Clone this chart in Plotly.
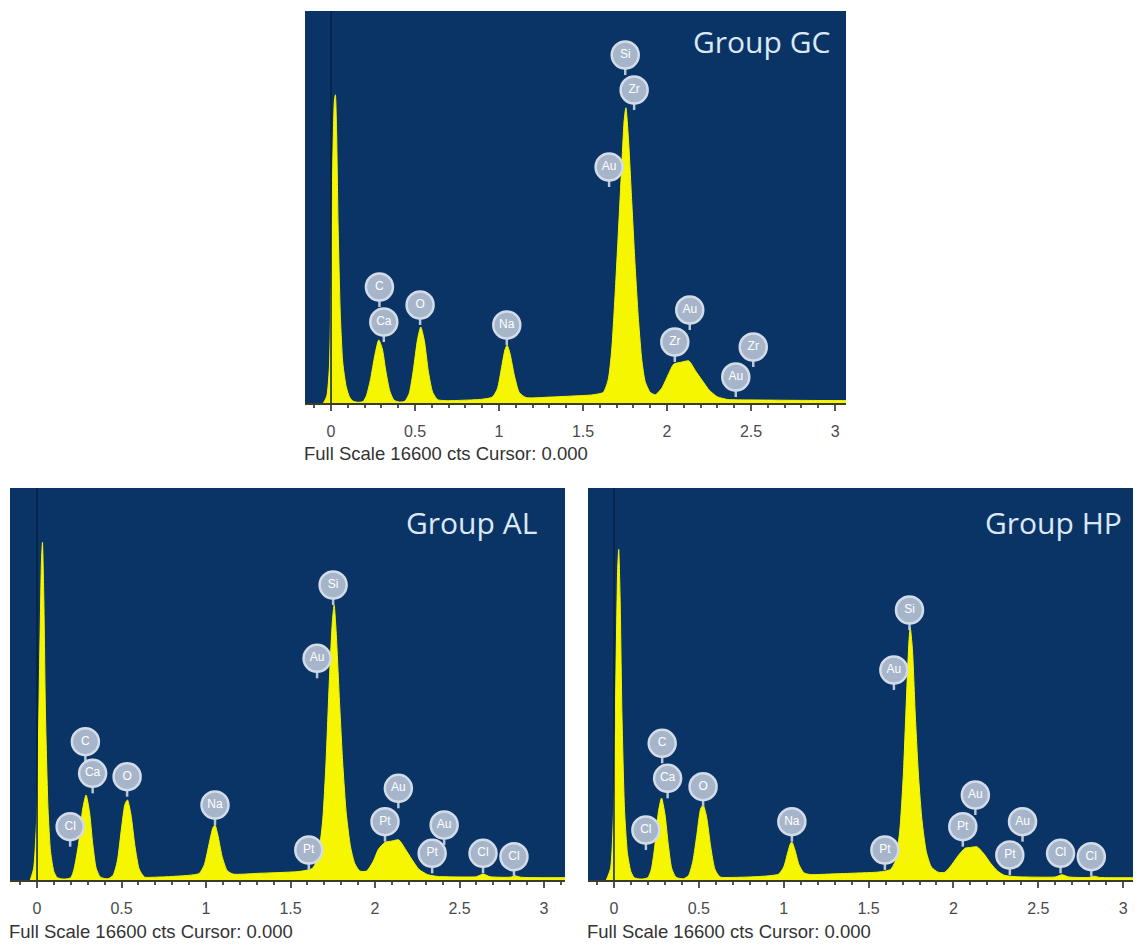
import plotly.graph_objects as go

W, H = 1141, 950
OFF = 8  # page body margin of the written html
FULL_SCALE = 16600

# ---------------- data ----------------
panel_names = ["Group GC", "Group AL", "Group HP"]

E_GC = [-0.045, -0.025, -0.01, 0.0, 0.01, 0.02, 0.026, 0.033, 0.042, 0.055, 0.07, 0.09, 0.11, 0.13, 0.16,
        0.19, 0.21, 0.235, 0.26, 0.284, 0.305, 0.325, 0.35, 0.375, 0.41,
        0.44, 0.465, 0.49, 0.515, 0.534, 0.555, 0.58, 0.605, 0.635, 0.7, 0.8, 0.9,
        0.96, 0.99, 1.015, 1.035, 1.048, 1.065, 1.09, 1.12, 1.16, 1.3, 1.45, 1.55,
        1.62, 1.65, 1.67, 1.69, 1.71, 1.73, 1.745, 1.755, 1.77, 1.79, 1.81, 1.83, 1.85, 1.87, 1.9, 1.93,
        1.97, 2.01, 2.04, 2.08, 2.13, 2.17, 2.21, 2.25, 2.3, 2.36, 2.5, 2.8, 3.1]
C_GC = [0, 300, 1500, 5000, 10000, 12800, 13050, 11500, 7500, 3800, 1700, 700, 250, 80, 30,
        60, 300, 1000, 2000, 2670, 2300, 1400, 500, 120, 40,
        80, 400, 1400, 2700, 3220, 2650, 1300, 450, 140, 100, 120, 160,
        250, 600, 1500, 2250, 2450, 2100, 1200, 450, 230, 250, 300, 340,
        450, 1000, 2200, 4500, 7200, 10000, 12000, 12500, 11200, 8500, 5800, 3500, 1800, 900, 450, 350,
        650, 1250, 1650, 1720, 1780, 1350, 950, 550, 260, 150, 130, 110, 100]

E_AL = [-0.04, -0.02, 0.0, 0.015, 0.026, 0.032, 0.04, 0.05, 0.065, 0.08, 0.1, 0.12, 0.16,
        0.2, 0.22, 0.245, 0.27, 0.29, 0.31, 0.33, 0.35, 0.375, 0.42,
        0.45, 0.475, 0.5, 0.52, 0.535, 0.555, 0.58, 0.605, 0.635, 0.7, 0.8, 0.9,
        0.96, 0.99, 1.02, 1.04, 1.053, 1.07, 1.095, 1.125, 1.16, 1.3, 1.45, 1.55, 1.6,
        1.63, 1.66, 1.69, 1.71, 1.73, 1.748, 1.758, 1.77, 1.79, 1.81, 1.83, 1.855, 1.88, 1.91, 1.95,
        1.99, 2.02, 2.06, 2.1, 2.14, 2.18, 2.22, 2.26, 2.31, 2.37, 2.5, 2.6, 2.64, 2.68, 2.8, 2.83, 2.86, 3.15]
C_AL = [0, 500, 3000, 9000, 13500, 14300, 12000, 7000, 3000, 1200, 350, 100, 40,
        100, 500, 1500, 3000, 3600, 2900, 1500, 500, 120, 50,
        200, 800, 2200, 3200, 3390, 2800, 1400, 450, 130, 120, 150, 200,
        280, 650, 1600, 2200, 2330, 1900, 1000, 400, 250, 280, 320, 360, 420,
        500, 900, 2500, 5000, 8500, 11000, 11650, 10500, 7500, 4800, 2800, 1400, 700, 380, 380,
        800, 1300, 1600, 1650, 1700, 1300, 850, 450, 230, 150, 130, 140, 250, 140, 120, 180, 120, 100]

E_HP = [-0.045, -0.02, 0.0, 0.012, 0.022, 0.028, 0.036, 0.047, 0.062, 0.08, 0.1, 0.12, 0.16,
        0.2, 0.22, 0.24, 0.262, 0.28, 0.3, 0.32, 0.34, 0.365, 0.41,
        0.44, 0.465, 0.49, 0.51, 0.525, 0.545, 0.57, 0.595, 0.625, 0.7, 0.8, 0.9,
        0.97, 1.0, 1.025, 1.04, 1.048, 1.065, 1.09, 1.12, 1.16, 1.3, 1.45, 1.55, 1.6,
        1.63, 1.66, 1.685, 1.705, 1.722, 1.737, 1.745, 1.758, 1.775, 1.795, 1.815, 1.84, 1.87, 1.91, 1.95,
        1.99, 2.03, 2.07, 2.1, 2.14, 2.18, 2.22, 2.26, 2.3, 2.37, 2.5, 2.6, 2.64, 2.68, 2.8, 2.83, 2.86, 3.15]
C_HP = [0, 500, 3500, 9000, 13200, 14000, 12000, 7000, 3000, 1100, 350, 100, 40,
        100, 450, 1400, 2900, 3470, 2800, 1500, 500, 120, 50,
        200, 800, 2000, 3000, 3180, 2700, 1400, 450, 130, 110, 130, 170,
        250, 550, 1200, 1550, 1610, 1300, 650, 300, 230, 260, 300, 330, 380,
        450, 850, 2200, 4500, 7500, 10000, 10700, 9800, 7000, 4300, 2500, 1200, 550, 330, 330,
        650, 1050, 1350, 1380, 1400, 1100, 700, 380, 200, 140, 120, 130, 220, 130, 110, 160, 110, 100]

# element badges: symbol, energy position, height (counts)
LBL_GC = ["Si", "Zr", "Au", "C", "Ca", "O", "Na", "Au", "Zr", "Zr", "Au"]
LX_GC = [1.751, 1.804, 1.655, 0.288, 0.314, 0.530, 1.046, 2.135, 2.046, 2.513, 2.409]
LY_GC = [14737, 13255, 9994, 4912, 3430, 4150, 3303, 3938, 2583, 2371, 1101]

LBL_AL = ["Si", "Au", "C", "Ca", "O", "Cl", "Na", "Pt", "Au", "Pt", "Au", "Pt", "Cl", "Cl"]
LX_AL = [1.752, 1.657, 0.286, 0.329, 0.533, 0.196, 1.053, 1.608, 2.138, 2.059, 2.409, 2.338, 2.639, 2.822]
LY_AL = [12492, 9388, 5857, 4517, 4376, 2258, 3176, 1270, 3882, 2470, 2329, 1129, 1129, 988]

LBL_HP = ["Si", "Au", "C", "Ca", "O", "Cl", "Na", "Pt", "Au", "Pt", "Au", "Pt", "Cl", "Cl"]
LX_HP = [1.741, 1.649, 0.284, 0.316, 0.525, 0.188, 1.048, 1.596, 2.129, 2.055, 2.407, 2.332, 2.631, 2.812]
LY_HP = [11434, 8893, 5788, 4305, 3952, 2117, 2470, 1270, 3599, 2258, 2470, 1059, 1129, 988]

TICK_VALS = [0, 0.5, 1, 1.5, 2, 2.5, 3]
TICK_TEXT = ["0", "0.5", "1", "1.5", "2", "2.5", "3"]
FOOTER = "Full Scale 16600 cts Cursor: 0.000"

# ---------------- layout geometry (page pixels) ----------------
panels = [
    dict(box=(305, 846, 11, 403), xr=(-0.155, 3.065), E=E_GC, C=C_GC, L=LBL_GC, LX=LX_GC, LY=LY_GC),
    dict(box=(10, 565, 488, 880), xr=(-0.160, 3.124), E=E_AL, C=C_AL, L=LBL_AL, LX=LX_AL, LY=LY_AL),
    dict(box=(588, 1149, 488, 880), xr=(-0.153, 3.152), E=E_HP, C=C_HP, L=LBL_HP, LX=LX_HP, LY=LY_HP),
]
title_pos = [(832, 42), (539, 522), (1124, 522)]

BG = "#0b3466"
YEL = "#f6f600"

def xp(px):
    return (px - OFF) / W

def yp(py):
    return 1 - (py - OFF) / H

fig = go.Figure()
layout = dict(width=W, height=H, margin=dict(l=0, r=0, t=0, b=0),
              paper_bgcolor="white", plot_bgcolor=BG, showlegend=False)
annotations = []
shapes = []

for i, p in enumerate(panels):
    n = "" if i == 0 else str(i + 1)
    xa, ya = "x" + n, "y" + n
    l, r, t, b = p["box"]
    cpp = FULL_SCALE / (b - t)  # counts per pixel

    fig.add_trace(go.Scatter(x=p["E"], y=p["C"], xaxis=xa, yaxis=ya, mode="lines",
                             line=dict(color=YEL, width=1, shape="spline", smoothing=0.6),
                             fill="tozeroy", fillcolor=YEL, hoverinfo="skip"))

    # badge tails
    tx, ty = [], []
    for x, y in zip(p["LX"], p["LY"]):
        tx += [x, x, None]
        ty += [y - 11 * cpp, y - 20 * cpp, None]
    fig.add_trace(go.Scatter(x=tx, y=ty, xaxis=xa, yaxis=ya, mode="lines",
                             line=dict(color="#b9c6d8", width=2.5), hoverinfo="skip"))
    # badges
    fig.add_trace(go.Scatter(x=p["LX"], y=p["LY"], xaxis=xa, yaxis=ya, mode="markers+text",
                             text=p["L"], textposition="middle center",
                             textfont=dict(color="white", size=12, family="Arial"),
                             marker=dict(size=27, color="#a6b5ca",
                                         line=dict(color="#d3dce8", width=2.5)),
                             hoverinfo="skip"))

    layout["xaxis" + n] = dict(domain=[xp(l), min(1.0, xp(r))], anchor=ya, range=list(p["xr"]),
                               tickvals=TICK_VALS, ticktext=TICK_TEXT,
                               showgrid=False, zeroline=False, showline=True,
                               linecolor="#3c3c2c", linewidth=2,
                               ticks="outside", ticklen=6, tickwidth=2, tickcolor="#555",
                               minor=dict(dtick=0.1, tick0=0, ticks="outside", ticklen=3,
                                          tickwidth=1.5, tickcolor="#555", showgrid=False),
                               tickfont=dict(family="Arial", size=16, color="#4a4a4a"),
                               ticklabelstandoff=7, fixedrange=True)
    layout["yaxis" + n] = dict(domain=[yp(b), yp(t)], anchor=xa, range=[0, FULL_SCALE],
                               visible=False, fixedrange=True)

    # cursor line
    shapes.append(dict(type="line", xref=xa, yref=ya + " domain", x0=0, x1=0, y0=0, y1=1,
                       line=dict(color="#071f42", width=1.5), layer="above"))

    # footer text
    annotations.append(dict(text=FOOTER, xref="paper", yref="paper", x=xp(l - 3),
                            y=yp(b + 51), xanchor="left", yanchor="middle", showarrow=False,
                            font=dict(family="Arial", size=18.5, color="#333")))
    # group title
    gx, gy = title_pos[i]
    annotations.append(dict(text=panel_names[i], xref="paper", yref="paper", x=xp(gx), y=yp(gy),
                            xanchor="right", yanchor="middle", showarrow=False,
                            font=dict(family="Open Sans", size=30, color="#dce8f6")))

layout["annotations"] = annotations
layout["shapes"] = shapes
fig.update_layout(**layout)
fig.write_html("out.html")
